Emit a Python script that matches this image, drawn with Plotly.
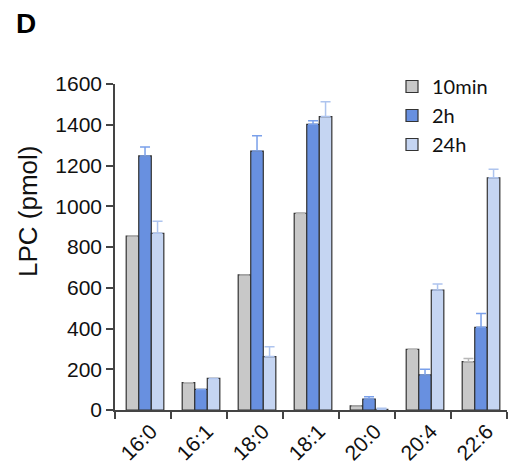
import plotly.graph_objects as go

categories = ["16:0", "16:1", "18:0", "18:1", "20:0", "20:4", "22:6"]
series_names = ["10min", "2h", "24h"]
vals_10min = [854, 134, 663, 965, 20, 298, 237]
err_10min = [0, 0, 0, 3, 0, 0, 16]
vals_2h = [1247, 101, 1271, 1402, 54, 172, 406]
err_2h = [44, 0, 75, 18, 11, 28, 68]
vals_24h = [867, 155, 262, 1440, 3, 589, 1140]
err_24h = [59, 0, 49, 73, 5, 29, 41]

fills = ["#c8c8c8", "#6890e0", "#c5d5f2"]
err_colors = ["#b8b8b8", "#7aa0ea", "#aec4ee"]

W, H = 513, 465
L, R, T, B = 115, 6, 84, 55
PW, PH = W - L - R, H - T - B

bar_w = 0.224
offsets = [-0.30, -0.076, 0.148]

fig = go.Figure()
for name, v, e, fc, ec, off in zip(series_names, [vals_10min, vals_2h, vals_24h],
                                   [err_10min, err_2h, err_24h], fills, err_colors, offsets):
    fig.add_trace(go.Bar(
        x=categories, y=v, name=name, width=bar_w, offset=off,
        marker=dict(color=fc, line=dict(color="#333333", width=1.2)),
        error_y=dict(type="data", array=e, symmetric=False, arrayminus=[0]*len(e),
                     color=ec, thickness=1.5, width=5),
    ))

fig.update_layout(
    width=W, height=H,
    margin=dict(l=L, r=R, t=T, b=B, autoexpand=False),
    paper_bgcolor="white", plot_bgcolor="white",
    barmode="overlay",
    font=dict(family="Liberation Sans, Arial", size=21, color="#111111"),
    showlegend=True,
    legend=dict(x=(392 - L) / PW, y=1 + (84 - 67) / PH, xanchor="left", yanchor="top",
                font=dict(family="Lato", size=20, color="#111111"),
                bgcolor="rgba(0,0,0,0)", tracegroupgap=0),
)
fig.add_annotation(text="<b>D</b>", xref="paper", yref="paper",
                   x=(14 - L) / PW, y=1 + (T - 6) / PH,
                   xanchor="left", yanchor="top", showarrow=False,
                   font=dict(family="Liberation Sans, Arial", size=28, color="#000000"))
fig.add_annotation(text="LPC (pmol)", xref="paper", yref="paper",
                   x=(28 - L) / PW, y=(H - B - 212) / PH,
                   xanchor="center", yanchor="middle", textangle=-90, showarrow=False,
                   font=dict(family="Liberation Sans, Arial", size=26, color="#111111"))

fig.update_xaxes(
    type="category", tickson="boundaries", ticks="outside", ticklen=7,
    tickcolor="#444444", tickwidth=1.5, automargin=False,
    showline=True, linecolor="#444444", linewidth=1.5,
    tickangle=-45, tickfont=dict(size=21, color="#111111"), showgrid=False,
    ticklabelshift=8, ticklabelstandoff=-1,
)
fig.update_yaxes(
    range=[0, 1600], tickvals=[0, 200, 400, 600, 800, 1000, 1200, 1400, 1600],
    ticks="outside", ticklen=7, tickcolor="#444444", tickwidth=1.5, automargin=False,
    showline=True, linecolor="#444444", linewidth=1.5, showgrid=False,
    zeroline=False, tickfont=dict(size=21, color="#111111"),
)

fig.write_html("out.html", config={"displayModeBar": False},
               post_script="document.body.style.margin='0';document.body.style.overflow='hidden';")
